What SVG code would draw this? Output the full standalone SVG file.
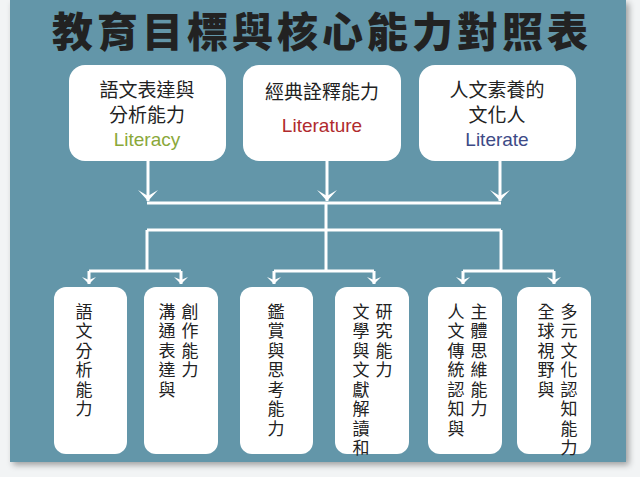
<svg xmlns="http://www.w3.org/2000/svg" width="640" height="477" viewBox="0 0 640 477">
<defs>
<style>
.box{fill:#fff}
.cjk{font-family:"Noto Sans CJK TC","Noto Sans CJK SC",sans-serif;fill:#222}
.t{font-size:19px;text-anchor:middle}
.v{font-size:17px;writing-mode:vertical-rl;text-orientation:upright;letter-spacing:2.5px}
.en{font-family:"Liberation Sans",Arial,sans-serif;font-size:19px;text-anchor:middle}
.ln{stroke:#fff;stroke-width:3;fill:none}
</style>
<marker id="ah" viewBox="0 0 20 12" refX="10" refY="11" markerWidth="20" markerHeight="12" markerUnits="userSpaceOnUse" orient="0">
<path d="M0,0 L10,11 L20,0 L10,6 Z" fill="#fff"/>
</marker>
<marker id="bh" viewBox="0 0 14 10" refX="7" refY="9" markerWidth="14" markerHeight="10" markerUnits="userSpaceOnUse" orient="0">
<path d="M0,2 L7,9 L14,2 L7,5 Z" fill="#fff"/>
</marker>
<filter id="sh" x="-5%" y="-5%" width="110%" height="110%"><feDropShadow dx="3" dy="3" stdDeviation="3" flood-color="#000" flood-opacity="0.35"/></filter>
</defs>
<rect width="640" height="477" fill="#f2f4f5"/>
<rect x="10" y="0" width="616" height="462" fill="#6396a9" filter="url(#sh)"/>
<text x="322" y="47" class="cjk" font-size="41" font-weight="900" text-anchor="middle" letter-spacing="4" fill="#262626">教育目標與核心能力對照表</text>

<g id="connectors">
<path class="ln" d="M148,161 V201" marker-end="url(#ah)"/>
<path class="ln" d="M327,161 V201" marker-end="url(#ah)"/>
<path class="ln" d="M500,161 V201" marker-end="url(#ah)"/>
<path class="ln" d="M147,203 H501"/>
<path class="ln" d="M147,230 H501"/>
<path class="ln" d="M326,203 V271"/>
<path class="ln" d="M147,230 V271"/>
<path class="ln" d="M501,230 V271"/>
<path class="ln" d="M89,271 H181 M274,271 H374 M463,271 H554"/>
<path class="ln" d="M89,271 V284" marker-end="url(#bh)"/>
<path class="ln" d="M181,271 V284" marker-end="url(#bh)"/>
<path class="ln" d="M274,271 V284" marker-end="url(#bh)"/>
<path class="ln" d="M374,271 V284" marker-end="url(#bh)"/>
<path class="ln" d="M463,271 V284" marker-end="url(#bh)"/>
<path class="ln" d="M554,271 V284" marker-end="url(#bh)"/>
</g>

<g id="n1"><rect class="box" x="69" y="65" width="157" height="96" rx="16"/>
<text class="cjk t" x="147" y="97">語文表達與</text><text class="cjk t" x="147" y="122">分析能力</text>
<text class="en" x="147" y="146" fill="#8aa83a">Literacy</text></g>
<g id="n2"><rect class="box" x="243" y="65" width="158" height="96" rx="16"/>
<text class="cjk t" x="322" y="99">經典詮釋能力</text>
<text class="en" x="322" y="132" fill="#b02a2e">Literature</text></g>
<g id="n3"><rect class="box" x="419" y="65" width="157" height="96" rx="16"/>
<text class="cjk t" x="497" y="97">人文素養的</text><text class="cjk t" x="497" y="122">文化人</text>
<text class="en" x="497" y="146" fill="#3d4a86">Literate</text></g>

<g id="b1"><rect class="box" x="54" y="287" width="73" height="167" rx="12"/>
<text class="cjk v" x="84" y="303">語文分析能力</text></g>
<g id="b2"><rect class="box" x="144" y="287" width="74" height="167" rx="12"/>
<text class="cjk v" x="190" y="303">創作能力</text>
<text class="cjk v" x="167" y="303">溝通表達與</text></g>
<g id="b3"><rect class="box" x="240" y="287" width="73" height="167" rx="12"/>
<text class="cjk v" x="276" y="303">鑑賞與思考能力</text></g>
<g id="b4"><rect class="box" x="335" y="287" width="74" height="167" rx="12"/>
<text class="cjk v" x="384" y="303">研究能力</text>
<text class="cjk v" x="361" y="303">文學與文獻解讀和</text></g>
<g id="b5"><rect class="box" x="428" y="287" width="74" height="167" rx="12"/>
<text class="cjk v" x="479" y="303">主體思維能力</text>
<text class="cjk v" x="456" y="303">人文傳統認知與</text></g>
<g id="b6"><rect class="box" x="517" y="287" width="74" height="167" rx="12"/>
<text class="cjk v" x="569" y="303">多元文化認知能力</text>
<text class="cjk v" x="546" y="303">全球視野與</text></g>
</svg>
